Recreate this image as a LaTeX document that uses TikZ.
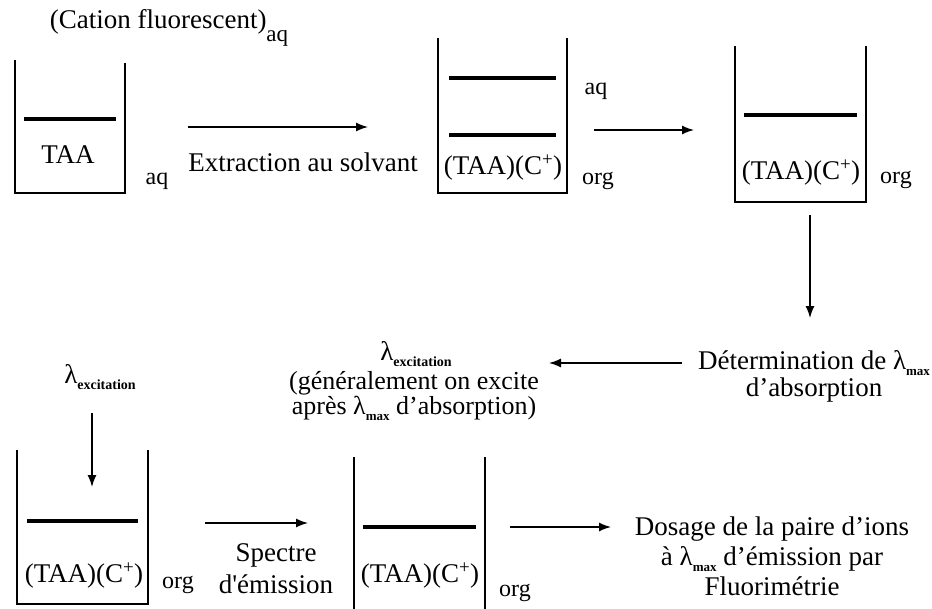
\documentclass[tikz,border=0pt]{standalone}
\usepackage{fontspec}
\setmainfont{Liberation Serif}
\newfontface\sqfont{Liberation Serif}[Ligatures=TeXOff]
\usetikzlibrary{arrows.meta}
\newcommand{\lmax}{λ\raisebox{-0.25em}{\fontsize{13}{13}\selectfont\bfseries max}}
\newcommand{\lexc}{λ\raisebox{-0.25em}{\fontsize{14}{14}\selectfont\bfseries excitation}}
\newcommand{\cplus}{(TAA)(C\textsuperscript{+})}
\begin{document}
\begin{tikzpicture}[x=1pt,y=-1pt,
  wall/.style={line width=1.6pt},
  layer/.style={line width=3.6pt},
  arr/.style={line width=1.4pt,-{Latex[length=12pt,width=9pt]}},
  txt/.style={font=\fontsize{27}{27}\selectfont, inner sep=0pt, align=center},
  side/.style={font=\fontsize{24}{26}\selectfont, inner sep=0pt}]
\useasboundingbox (0,0) rectangle (932,608);

% --- top row
\node[txt] (cation) at (169,28) {(Cation fluorescent)\raisebox{-0.5em}{\fontsize{23}{23}\selectfont aq}};

% beaker 1
\draw[wall] (15,60) -- (15,193) -- (125,193) -- (125,63);
\draw[layer] (24,119) -- (116,119);
\node[txt] (taa) at (68,155) {TAA};
\node[side] (aq1) at (157,181) {aq};

\coordinate (a1s) at (188,127);
\coordinate (a1e) at (368,127);
\draw[arr] (a1s) -- (a1e);
\node[txt] (extr) at (303,162) {Extraction au solvant};

% beaker 2
\draw[wall] (438,38) -- (438,193) -- (567,193) -- (567,38);
\draw[layer] (449,78) -- (556,78);
\draw[layer] (449,135) -- (556,135);
\node[txt] (p2) at (503,168) {\cplus};
\node[side] (aq2) at (596,91) {aq};
\node[side] (org2) at (598,181) {org};

\coordinate (a2s) at (594,130);
\coordinate (a2e) at (694,130);
\draw[arr] (a2s) -- (a2e);

% beaker 3
\draw[wall] (735,46) -- (735,202) -- (866,202) -- (866,46);
\draw[layer] (744,115) -- (857,115);
\node[txt] (p3) at (801,173) {\cplus};
\node[side] (org3) at (896,180) {org};

\coordinate (a3s) at (810,215);
\coordinate (a3e) at (810,318);
\draw[arr] (a3s) -- (a3e);

% --- middle row
\node[txt] (det) at (814,376) {Détermination de \lmax\\d’absorption};
\coordinate (a4s) at (682,363);
\coordinate (a4e) at (549,363);
\draw[arr] (a4s) -- (a4e);
\node[txt] (excl) at (416,354) {\lexc};
\node[txt, font=\fontsize{26}{25}\selectfont] (exc) at (414,396) {(généralement on excite\\après \lmax\ d’absorption)};

\node[txt] (exc2) at (100,377) {\lexc};

% --- bottom row
\coordinate (a5s) at (92,413);
\coordinate (a5e) at (92,487);
\draw[arr] (a5s) -- (a5e);

% beaker 4
\draw[wall] (17,450) -- (17,604) -- (148,604) -- (148,450);
\draw[layer] (27,521) -- (138,521);
\node[txt] (p4) at (84,576) {\cplus};
\node[side] (org4) at (178,585) {org};

\coordinate (a6s) at (205,523);
\coordinate (a6e) at (308,523);
\draw[arr] (a6s) -- (a6e);
\node[txt, font=\fontsize{27}{32}\selectfont] (spec) at (276,569) {Spectre\\d{\sqfont '}émission};

% beaker 5
\draw[wall] (354,457) -- (354,610);
\draw[wall] (485,457) -- (485,610);
\draw[layer] (363,527) -- (476,527);
\node[txt] (p5) at (420,576) {\cplus};
\node[side] (org5) at (515,593) {org};

\coordinate (a7s) at (510,527);
\coordinate (a7e) at (611,527);
\draw[arr] (a7s) -- (a7e);
\node[txt, font=\fontsize{27}{30}\selectfont] (dos) at (772,556) {Dosage de la paire d’ions\\à \lmax\ d’émission par\\Fluorimétrie};
\end{tikzpicture}
\end{document}
